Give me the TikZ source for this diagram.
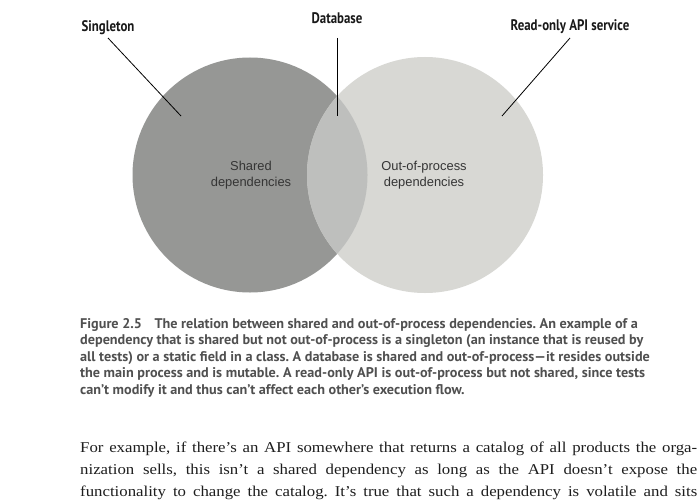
\documentclass[tikz,border=0pt]{standalone}
\usepackage{fontspec}
\newfontfamily\lblfont{PT Sans}[FakeStretch=0.84]
\newfontfamily\capfont{PT Sans}[FakeStretch=1.015]
\newfontfamily\arialfont{Liberation Sans}
\newfontfamily\bodyfont{Liberation Serif}[FakeStretch=1.12]
\definecolor{darkcirc}{HTML}{969795}
\definecolor{lightcirc}{HTML}{D8D8D4}
\definecolor{midcirc}{HTML}{BEBFBD}
\definecolor{captxt}{HTML}{505050}
\definecolor{innertxt}{HTML}{353535}
\definecolor{bodytxt}{HTML}{1E1E1E}
\tikzset{
  venn/.style={circle, inner sep=0pt, draw=none},
  lbl/.style={anchor=base, inner sep=0pt, font=\lblfont\bfseries\fontsize{15.3}{18}\selectfont, text=black!90},
  leader/.style={draw=black, line width=0.8pt},
  inner/.style={align=center, inner sep=0pt, text=innertxt, font=\arialfont\fontsize{12.9}{16}\selectfont},
  capline/.style={anchor=base west, inner sep=0pt, text=captxt, font=\capfont\bfseries\fontsize{14}{16}\selectfont},
  bodyline/.style={anchor=base west, inner sep=0pt, text=bodytxt, font=\bodyfont\fontsize{15}{22}\selectfont}
}
\frenchspacing
\begin{document}
\begin{tikzpicture}[x=1pt,y=-1pt]
\useasboundingbox (0,0) rectangle (700,500);
\fill[white] (0,0) rectangle (700,500);
% circles
\node[venn, fill=darkcirc, minimum size=235pt] (L) at (250,175) {};
\node[venn, fill=lightcirc, minimum size=236pt] (R) at (425,175) {};
\begin{scope}
  \clip (250,175) circle (117.5pt);
  \fill[midcirc] (425,175) circle (118pt);
\end{scope}
% inner labels
\node[inner] (shared) at (251,175) {Shared\\dependencies};
\node[inner] (oop) at (424,175) {Out-of-process\\dependencies};
% top labels
\node[lbl] (sing) at (108,31.5) {Singleton};
\node[lbl] (db) at (337,24) {Database};
\node[lbl] (api) at (570,30.7) {Read-only API service};
\coordinate (singE) at (181,116);
\coordinate (dbE) at (337,116);
\coordinate (apiE) at (502,116);
\draw[leader] ([yshift=-6.5pt]sing.base) -- (singE);
\draw[leader] ([yshift=-14pt]db.base) -- (dbE);
\draw[leader] ([yshift=-7.3pt]api.base) -- (apiE);
% caption
\node[capline] (c1) at (80,328) {Figure 2.5\hspace{0.9em}The relation between shared and out-of-process dependencies. An example of a};
\node[capline] (c2) at (80,344.5) {dependency that is shared but not out-of-process is a singleton (an instance that is reused by};
\node[capline] (c3) at (80,361) {all tests) or a static field in a class. A database is shared and out-of-process—it resides outside};
\node[capline] (c4) at (80,377.5) {the main process and is mutable. A read-only API is out-of-process but not shared, since tests};
\node[capline] (c5) at (80,394) {can’t modify it and thus can’t affect each other’s execution flow.};
% body
\node[bodyline] (b1) at (80,452) {\makebox[617pt][s]{For example, if there’s an API somewhere that returns a catalog of all products the orga-}};
\node[bodyline] (b2) at (80,474) {\makebox[617pt][s]{nization sells, this isn’t a shared dependency as long as the API doesn’t expose the}};
\node[bodyline] (b3) at (80,496) {\makebox[617pt][s]{functionality to change the catalog. It’s true that such a dependency is volatile and sits}};
\end{tikzpicture}
\end{document}
